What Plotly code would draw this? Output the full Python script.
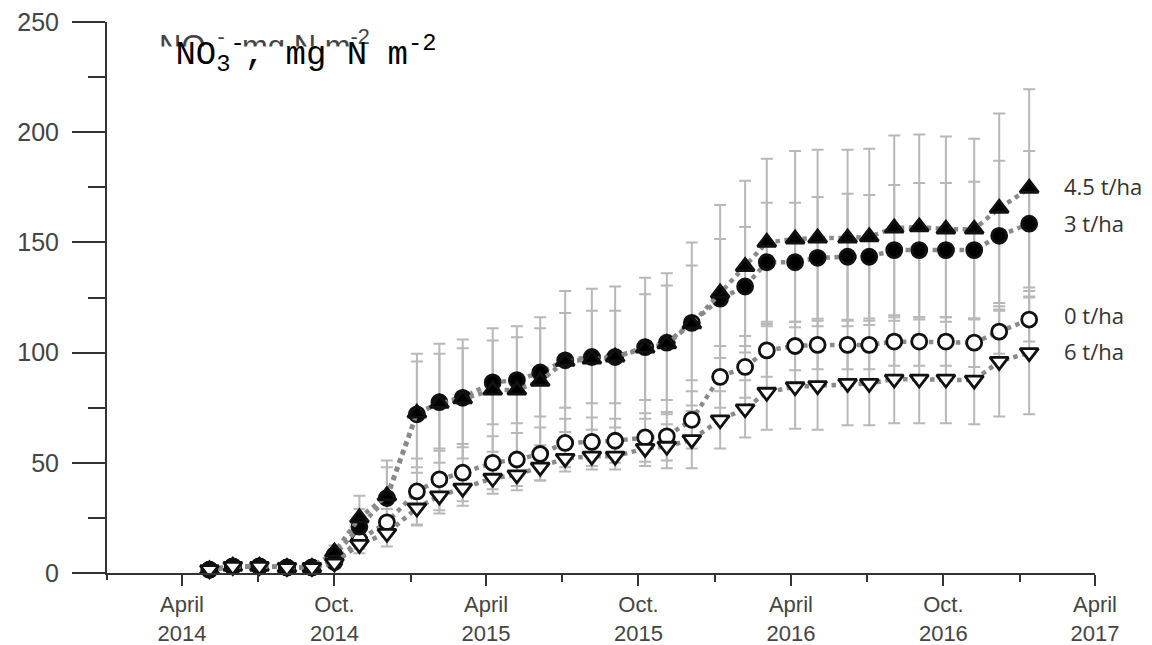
import plotly.graph_objects as go

dates = ["2014-05-04", "2014-06-01", "2014-07-03", "2014-08-05", "2014-09-04", "2014-10-01",
         "2014-10-31", "2014-12-03", "2015-01-08", "2015-02-04", "2015-03-04", "2015-04-09",
         "2015-05-08", "2015-06-05", "2015-07-05", "2015-08-06", "2015-09-03", "2015-10-09",
         "2015-11-04", "2015-12-04", "2016-01-07", "2016-02-06", "2016-03-03", "2016-04-06",
         "2016-05-03", "2016-06-08", "2016-07-04", "2016-08-03", "2016-09-02", "2016-10-04",
         "2016-11-07", "2016-12-07", "2017-01-12"]

n_0t = [1.5, 3, 3, 2.5, 2.5, 5, 15, 23, 37, 42.5, 45.5, 50, 51.5, 54, 59, 59.5, 60, 61.5, 62, 69.5,
        89, 93.5, 101, 103, 103.5, 103.5, 103.5, 105, 105, 105, 104.5, 109.5, 115]
n_3t = [1.5, 3, 3, 2.5, 2.5, 8, 21, 34, 72, 77.5, 79.5, 86.5, 87.5, 91, 96.5, 98, 98, 102.5, 104.5,
        113.5, 124.5, 130, 141, 141, 143, 143.5, 143.5, 146.5, 146.5, 146.5, 146.5, 153, 158.5]
n_45t = [1.5, 3, 3, 2.5, 2.5, 9.5, 25, 35, 72.5, 77, 79, 83, 83, 87, 96, 97, 98, 102, 104, 113,
         127, 139, 150, 151.5, 152, 152, 152.5, 156.5, 157, 156, 156, 165.5, 174.5]
n_6t = [1.5, 3, 3, 2.5, 2.5, 4.5, 13, 18, 29.5, 35, 38.5, 43, 44.5, 48, 52, 53, 53, 56.5, 57.5, 60.5,
        69.5, 74.5, 82, 84.5, 85, 86, 86, 88, 88, 88, 87.5, 96, 100]

e_0t = [1, 1, 1, 1, 1, 2, 4, 6, 15, 14, 13, 12, 12, 12, 11, 11, 10, 11, 11, 13, 14, 14, 12, 11, 11,
        11, 11, 11, 11, 11, 11, 10, 10]
e_3t = [1, 1, 1, 1, 1, 3, 8, 14, 24, 22, 22.5, 19, 19.5, 20, 21.5, 21, 21, 24, 26, 26, 27, 27, 27,
        27, 27.6, 28.6, 28, 29.5, 30.5, 30.5, 31, 34, 33]
e_45t = [1, 1, 1, 1, 1, 3, 10, 16, 27, 27, 27, 28, 29, 29, 32, 32, 32, 32, 32, 37, 40, 39, 38, 40,
         40, 40, 40, 42, 42, 42, 41, 43, 45]
e_6t = [1, 1, 1, 1, 1, 2, 4, 6, 8, 8, 8, 7, 7, 6, 6, 6, 6, 8, 10, 13, 13, 13, 17, 19, 20, 19, 19,
        20, 20, 20, 20, 25, 28]

series_names = ["0 t/ha", "3 t/ha", "4.5 t/ha", "6 t/ha"]
major_ticks = ["2014-04-01", "2014-10-01", "2015-04-01", "2015-10-01", "2016-04-01", "2016-10-01",
               "2017-04-01"]
major_text = ["April<br>2014", "Oct.<br>2014", "April<br>2015", "Oct.<br>2015", "April<br>2016",
              "Oct.<br>2016", "April<br>2017"]
minor_ticks = ["2014-07-01", "2015-01-01", "2015-07-01", "2016-01-01", "2016-07-01", "2017-01-01"]
y_ticks = [0, 50, 100, 150, 200, 250]

series = [
    (series_names[0], n_0t, e_0t, "circle", "white"),
    (series_names[1], n_3t, e_3t, "circle", "black"),
    (series_names[2], n_45t, e_45t, "triangle-up", "black"),
    (series_names[3], n_6t, e_6t, "triangle-down", "white"),
]

# plot area in pixels: x 107..1095, y 22..573
L, R, T, B = 107, 1095, 22, 573


def px(xp):
    return (xp - L) / (R - L)


def py(yp):
    return (B - yp) / (B - T)


fig = go.Figure()

# error bars first (underneath)
for name, vals, errs, sym, fill in series:
    fig.add_trace(go.Scatter(
        x=dates, y=vals, mode="markers", showlegend=False, hoverinfo="skip",
        marker=dict(size=1, color="rgba(0,0,0,0)"),
        error_y=dict(type="data", array=errs, visible=True, color="#b8b8b8",
                     thickness=2, width=6),
        cliponaxis=False,
    ))

# dotted lines and markers
for name, vals, errs, sym, fill in series:
    fig.add_trace(go.Scatter(
        x=dates, y=vals, mode="lines+markers", name=name, showlegend=False,
        line=dict(color="#8a8a8a", width=4.5, dash="dot"),
        marker=dict(symbol=sym, size=15 if "circle" in sym else 16, color=fill,
                    line=dict(color="#111111", width=2.8)),
        cliponaxis=False,
    ))

# series labels at the right
for name, vals, ys in [(series_names[2], n_45t, 2), (series_names[1], n_3t, 1),
                       (series_names[0], n_0t, 5), (series_names[3], n_6t, 2)]:
    fig.add_annotation(x=dates[-1], y=vals[-1], text=name, showarrow=False,
                       xanchor="left", yanchor="middle", xshift=33, yshift=ys,
                       font=dict(family="Open Sans", size=22, color="#333333"))

# ghost (partially hidden) original label
fig.add_annotation(xref="paper", yref="paper", x=px(157), y=py(22),
                   xanchor="left", yanchor="top", showarrow=False,
                   text="NO<sub>3</sub><sup>-</sup>, mg N m<sup>-2</sup>",
                   font=dict(family="Liberation Sans", size=31, color="#444444"))

# white cover hiding the lower part of the ghost label
fig.add_annotation(xref="paper", yref="paper", x=px(150), y=py(46),
                   xanchor="left", yanchor="top", showarrow=False, bgcolor="white",
                   text=" ", width=300, height=40, borderpad=0,
                   font=dict(size=10, color="white"))

# main label
fig.add_annotation(xref="paper", yref="paper", x=px(150), y=py(25),
                   xanchor="left", yanchor="top", showarrow=False,
                   borderpad=4,
                   text="&nbsp;NO<sub>3</sub><sup>-</sup>, mg N m<sup>-2</sup>",
                   font=dict(family="Courier New, Liberation Mono, monospace", size=34,
                             color="#000000"))

# y-axis line extension below zero
fig.add_shape(type="line", xref="paper", yref="paper", x0=0, x1=0, y0=0, y1=py(580),
              line=dict(color="#333333", width=2))

fig.update_layout(
    width=1152, height=645,
    margin=dict(l=L, r=1152 - R, t=T, b=645 - B, autoexpand=False),
    plot_bgcolor="white", paper_bgcolor="white",
    showlegend=False,
    xaxis=dict(
        type="date", range=["2014-01-01", "2017-04-01"], automargin=False,
        showline=True, linecolor="#333333", linewidth=2,
        showgrid=False, zeroline=False,
        ticks="outside", ticklen=11, tickwidth=2, tickcolor="#333333",
        tickmode="array", tickvals=major_ticks, ticktext=major_text,
        tickfont=dict(family="Liberation Sans", size=22, color="#444444"),
        minor=dict(tickmode="array", tickvals=minor_ticks, ticks="outside", ticklen=7,
                   tickwidth=2, tickcolor="#333333", showgrid=False),
    ),
    yaxis=dict(
        range=[0, 250], automargin=False,
        showline=True, linecolor="#333333", linewidth=2,
        showgrid=False, zeroline=False,
        ticks="outside", ticklen=33, tickwidth=2, tickcolor="#333333",
        tickmode="array", tickvals=y_ticks,
        ticklabelstandoff=8,
        tickfont=dict(family="Liberation Sans", size=25, color="#444444"),
        minor=dict(dtick=25, tick0=0, ticks="outside", ticklen=17, tickwidth=2,
                   tickcolor="#333333", showgrid=False),
    ),
)

fig.write_html("out.html")
